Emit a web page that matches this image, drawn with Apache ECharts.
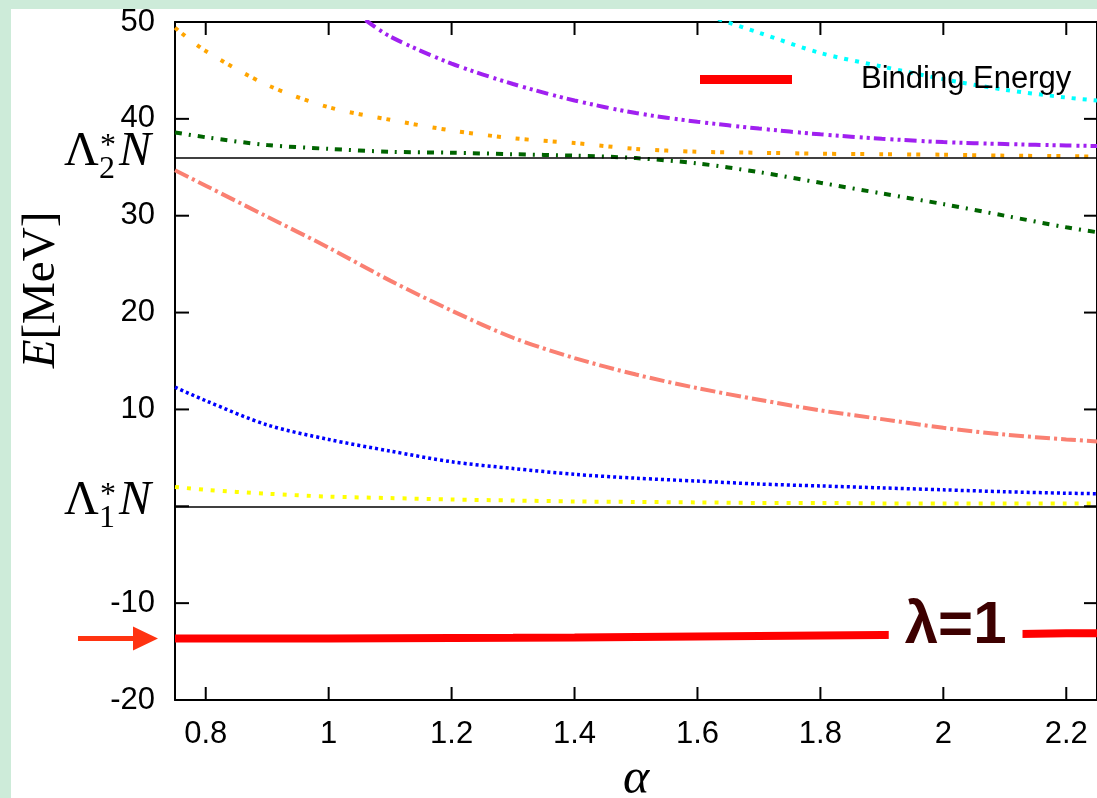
<!DOCTYPE html>
<html>
<head>
<meta charset="utf-8">
<script src="https://cdn.jsdelivr.net/npm/echarts@6/dist/echarts.min.js"></script>
<style>
html, body { margin: 0; padding: 0; background: #cdebd9; }
#chart { position: absolute; left: 11px; top: 9px; width: 1086px; height: 789px; background: #fff; }
</style>
</head>
<body>
<div id="chart"></div>
<script>
// x grid shared by most curves
const alpha = [0.75, 0.8, 0.9, 1.0, 1.1, 1.2, 1.3, 1.4, 1.5, 1.6, 1.7, 1.8, 1.9, 2.0, 2.1, 2.2, 2.25];
const orange = [49.4, 47.0, 43.5, 41.2, 39.9, 38.8, 38.0, 37.5, 36.9, 36.6, 36.5, 36.4, 36.35, 36.3, 36.2, 36.15, 36.1];
const green = [38.6, 38.1, 37.3, 36.9, 36.6, 36.5, 36.35, 36.2, 35.95, 35.4, 34.5, 33.4, 32.3, 31.2, 30.0, 28.8, 28.3];
const salmon = [34.7, 33.1, 29.9, 26.7, 23.3, 20.2, 17.4, 15.3, 13.6, 12.2, 11.0, 9.9, 9.0, 8.1, 7.4, 6.9, 6.7];
const blue = [12.3, 10.9, 8.4, 6.9, 5.7, 4.6, 3.9, 3.3, 2.9, 2.6, 2.3, 2.1, 1.9, 1.7, 1.5, 1.35, 1.3];
const yellow = [2.0, 1.7, 1.3, 1.0, 0.85, 0.7, 0.6, 0.5, 0.45, 0.4, 0.35, 0.35, 0.3, 0.3, 0.3, 0.3, 0.3];
const binding = [-13.65, -13.65, -13.65, -13.65, -13.62, -13.6, -13.58, -13.55, -13.5, -13.45, -13.4, -13.35, -13.3, -13.25, -13.2, -13.12, -13.1];

// curves that enter from above the frame
const purpleAlpha = [1.06, 1.1, 1.2, 1.3, 1.4, 1.5, 1.6, 1.7, 1.8, 1.9, 2.0, 2.1, 2.2, 2.25];
const purple = [50.2, 48.5, 45.7, 43.6, 41.9, 40.6, 39.7, 39.0, 38.4, 37.95, 37.6, 37.4, 37.25, 37.2];
const cyanAlpha = [1.6, 1.7, 1.8, 1.9, 2.0, 2.1, 2.2, 2.25];
const cyan = [51.0, 48.9, 46.8, 45.4, 44.1, 43.0, 42.2, 41.9];

// thresholds: Λ1*N and Λ2*N
const thresholds = [0, 36];
const thresholdSubs = ['1', '2'];

const xTicks = [0.8, 1, 1.2, 1.4, 1.6, 1.8, 2, 2.2];
const yTicks = [-20, -10, 0, 10, 20, 30, 40, 50];
const lambdaText = 'λ=1';
const lambdaPos = [2.02, -12.4];

const zip = (xs, ys) => xs.map((x, i) => [x, ys[i]]);

let chart = echarts.init(document.getElementById('chart'));

const curve = (name, xs, ys, color, dash, width) => ({
    name: name,
    type: 'line',
    data: zip(xs, ys),
    symbol: 'none',
    smooth: 0.3,
    silent: true,
    lineStyle: { color: color, width: width || 4, type: dash },
    itemStyle: { color: color }
});

const black2 = { color: '#000', width: 2 };

chart.setOption({
    animation: false,
    backgroundColor: '#fff',
    grid: { left: 164, top: 13, right: 0, bottom: 98, containLabel: false, outerBoundsMode: 'none' },
    legend: {
        data: ['Binding Energy'],
        left: 684,
        top: 50,
        icon: 'rect',
        itemWidth: 92,
        itemHeight: 9,
        selectedMode: false,
        textStyle: { fontSize: 31, fontFamily: 'Liberation Sans', color: '#000', padding: [0, 0, 0, 64] }
    },
    xAxis: [
        {
            type: 'value', min: 0.75, max: 2.25, position: 'bottom',
            axisLine: { show: true, onZero: false, lineStyle: black2 },
            axisTick: { show: false },
            axisLabel: { customValues: xTicks, margin: 19, fontSize: 31, color: '#000', fontFamily: 'Liberation Sans' },
            splitLine: { show: false },
            name: 'α', nameLocation: 'middle', nameGap: 54,
            nameTextStyle: { fontFamily: 'Liberation Serif', fontStyle: 'italic', fontSize: 50, color: '#000' }
        },
        {
            type: 'value', min: 0.75, max: 2.25, position: 'top',
            axisLine: { show: true, onZero: false, lineStyle: black2 },
            axisTick: { show: false },
            axisLabel: { show: false },
            splitLine: { show: false }
        }
    ],
    yAxis: [
        {
            type: 'value', min: -20, max: 50, interval: 10, position: 'left',
            axisLine: { show: true, onZero: false, lineStyle: black2 },
            axisTick: { show: false },
            axisLabel: {
                margin: 20, fontSize: 31, color: '#000', fontFamily: 'Liberation Sans',
                formatter: v => (v === 0 ? '' : String(v))
            },
            splitLine: { show: false }
        },
        {
            type: 'value', min: -20, max: 50, interval: 10, position: 'right',
            axisLine: { show: true, onZero: false, lineStyle: black2 },
            axisTick: { show: false },
            axisLabel: { show: false },
            splitLine: { show: false }
        }
    ],
    series: [
        {
            name: 'thresholds',
            type: 'line',
            data: zip(alpha, yellow),
            symbol: 'none',
            lineStyle: { opacity: 0 },
            silent: true,
            markLine: {
                silent: true,
                symbol: 'none',
                label: { show: false },
                lineStyle: { color: '#000', width: 1.5, type: 'solid' },
                data: thresholds.map(v => ({ yAxis: v }))
            }
        },
        curve('yellow', alpha, yellow, '#ffff00', [4, 8], 4),
        curve('blue', alpha, blue, '#0000ff', [3, 3], 3.5),
        curve('salmon', alpha, salmon, '#fa8072', [15, 4, 3, 4], 4),
        curve('green', alpha, green, '#006400', [7, 7, 2, 7], 4),
        curve('orange', alpha, orange, '#ffa500', [4, 5, 4, 15], 4),
        curve('purple', purpleAlpha, purple, '#a020f0', [12, 5, 3, 4, 3, 4], 4),
        curve('cyan', cyanAlpha, cyan, '#00ffff', [4, 7], 4),
        {
            name: 'Binding Energy',
            type: 'line',
            data: zip(alpha, binding),
            symbol: 'none',
            silent: true,
            lineStyle: { color: '#ff0000', width: 8 },
            itemStyle: { color: '#ff0000' },
            markPoint: {
                silent: true,
                symbol: 'rect',
                symbolSize: 0,
                data: [{
                    coord: lambdaPos,
                    label: {
                        show: true, position: 'inside', formatter: lambdaText,
                        color: '#3d0000', fontSize: 60, fontWeight: 'bold', fontFamily: 'Liberation Sans',
                        lineHeight: 62, backgroundColor: '#fff', padding: [6, 16, 6, 16]
                    }
                }]
            }
        }
    ]
});

// labels for the threshold lines, placed on the y scale
function thresholdLabel(sub, value) {
    const y = chart.convertToPixel({ yAxisIndex: 0 }, value);
    const t = (text, x, dy, font) => ({
        type: 'text', x: x, y: y + dy,
        style: { text: text, font: font, fill: '#000', textAlign: 'left', align: 'left', textVerticalAlign: 'middle', verticalAlign: 'middle' }
    });
    return {
        type: 'group',
        children: [
            t('Λ', 53, -5, '48px "Liberation Serif"'),
            t('*', 89, -11, '32px "Liberation Serif"'),
            t(sub, 88, 12, '32px "Liberation Serif"'),
            t('N', 108, -5, 'italic 48px "Liberation Serif"')
        ]
    };
}

// inward ticks on all four sides, placed through the axes' scales
const x0 = chart.convertToPixel({ xAxisIndex: 0 }, 0.75);
const x1 = chart.convertToPixel({ xAxisIndex: 0 }, 2.25);
const yTop = chart.convertToPixel({ yAxisIndex: 0 }, 50);
const yBot = chart.convertToPixel({ yAxisIndex: 0 }, -20);
const tickLine = (xa, ya, xb, yb) => ({
    type: 'line', silent: true, z: 10,
    shape: { x1: xa, y1: ya, x2: xb, y2: yb },
    style: { stroke: '#000', lineWidth: 2 }
});
const ticks = [];
xTicks.forEach(v => {
    const px = chart.convertToPixel({ xAxisIndex: 0 }, v);
    ticks.push(tickLine(px, yBot, px, yBot - 13));
    ticks.push(tickLine(px, yTop, px, yTop + 13));
});
yTicks.forEach(v => {
    const py = chart.convertToPixel({ yAxisIndex: 0 }, v);
    ticks.push(tickLine(x0, py, x0 + 14, py));
    ticks.push(tickLine(x1, py, x1 - 13, py));
});

const start = chart.convertToPixel({ gridIndex: 0 }, [alpha[0], binding[0]]);
const ax = start[0], ay = start[1];

chart.setOption({
    graphic: ticks.concat([
        thresholdLabel(thresholdSubs[0], thresholds[0]),
        thresholdLabel(thresholdSubs[1], thresholds[1]),
        {
            type: 'text', x: 31, y: 281, rotation: Math.PI / 2,
            style: {
                text: '{i|E}[MeV]', rich: { i: { fontStyle: 'italic', fontSize: 47, fontFamily: 'Liberation Serif' } },
                font: '47px "Liberation Serif"', fill: '#000',
                textAlign: 'center', align: 'center', textVerticalAlign: 'middle', verticalAlign: 'middle'
            }
        },
        {
            type: 'polygon',
            shape: {
                points: [
                    [ax - 97, ay - 2.5], [ax - 42, ay - 2.5], [ax - 42, ay - 12],
                    [ax - 17, ay], [ax - 42, ay + 12], [ax - 42, ay + 2.5], [ax - 97, ay + 2.5]
                ]
            },
            style: { fill: '#ff3311' }
        }
    ])
});

window.onresize = function () {
    chart.resize();
};
</script>
</body>
</html>
